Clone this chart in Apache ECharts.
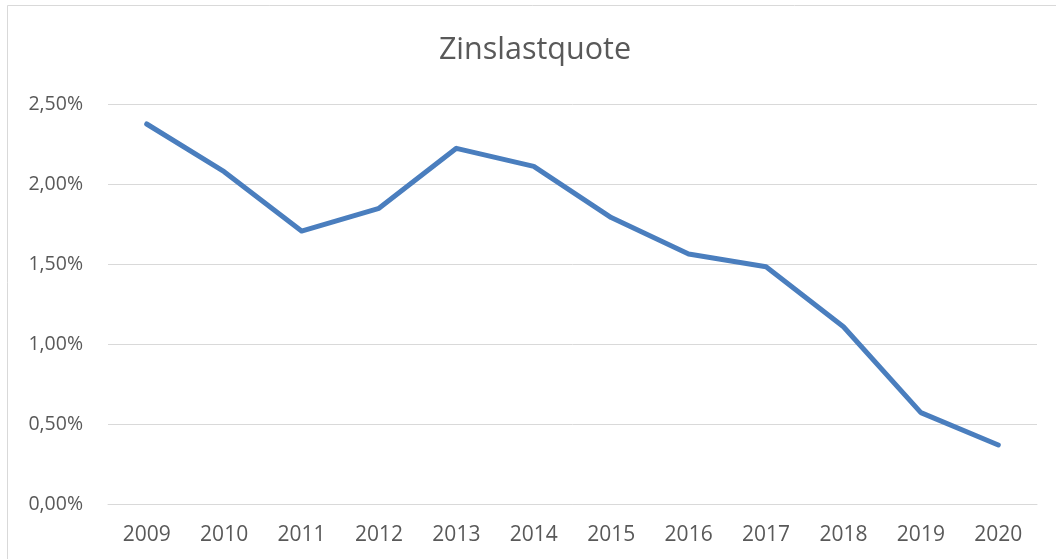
<!DOCTYPE html>
<html>
<head>
<meta charset="utf-8">
<script src="https://cdn.jsdelivr.net/npm/echarts@6/dist/echarts.min.js"></script>
<style>
html,body{margin:0;padding:0;background:#fff;}
#c{width:1056px;height:559px;}
</style>
</head>
<body>
<div id="c"></div>
<script>
const title = 'Zinslastquote';
const years = ['2009','2010','2011','2012','2013','2014','2015','2016','2017','2018','2019','2020'];
const zinslastquote = [2.375, 2.077, 1.706, 1.848, 2.223, 2.11, 1.79, 1.562, 1.483, 1.108, 0.571, 0.369];
const yMin = 0, yMax = 2.5, yStep = 0.5;

const chart = echarts.init(document.getElementById('c'), null, {renderer: 'canvas'});
const font = '"Open Sans", sans-serif';
chart.setOption({
  animation: false,
  backgroundColor: '#ffffff',
  title: {
    text: title,
    left: 535,
    textAlign: 'center',
    top: 35,
    padding: 0,
    textStyle: {fontFamily: font, fontSize: 30.5, fontWeight: 'normal', color: '#595959'}
  },
  graphic: [{
    type: 'rect',
    shape: {x: 7.5, y: 5.5, width: 1100, height: 600},
    style: {fill: 'none', stroke: '#d9d9d9', lineWidth: 1},
    silent: true
  }],
  grid: {left: 108, right: 19, top: 104, bottom: 55, containLabel: false},
  xAxis: {
    type: 'category',
    data: years,
    boundaryGap: true,
    axisLine: {show: true, lineStyle: {color: '#d9d9d9', width: 1}},
    axisTick: {show: false},
    axisLabel: {margin: 21, fontFamily: font, fontSize: 21, color: '#595959'}
  },
  yAxis: {
    type: 'value',
    min: yMin, max: yMax, interval: yStep,
    axisLine: {show: false},
    axisTick: {show: false},
    splitLine: {show: true, lineStyle: {color: '#d9d9d9', width: 1}},
    axisLabel: {
      margin: 25, fontFamily: font, fontSize: 19.5, color: '#595959',
      formatter: v => v.toFixed(2).replace('.', ',') + '%'
    }
  },
  series: [{
    type: 'line',
    data: zinslastquote,
    symbol: 'none',
    lineStyle: {color: '#4a7ebe', width: 5, cap: 'round', join: 'round'}
  }]
});
</script>
</body>
</html>
